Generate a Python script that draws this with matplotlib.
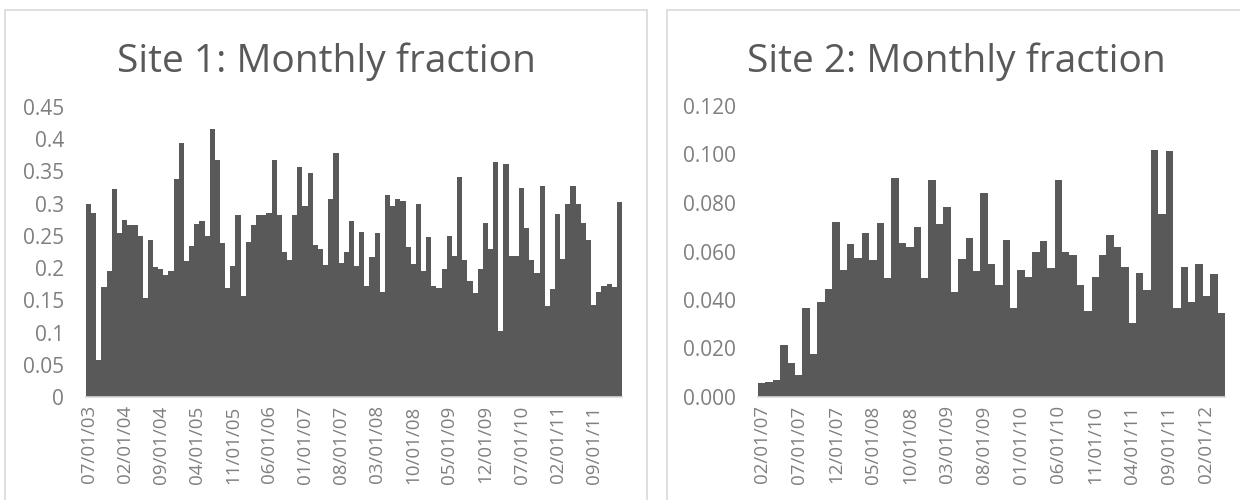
import numpy as np
import pandas as pd
import matplotlib
matplotlib.use("Agg")
import matplotlib.pyplot as plt
from matplotlib.patches import Rectangle

plt.rcParams['font.family'] = ['Open Sans', 'DejaVu Sans']

# Site 1: monthly values starting 07/2003
site1_start = "2003-07-01"
site1_values = [
    0.300, 0.285, 0.058, 0.171, 0.195, 0.323, 0.254, 0.275, 0.267, 0.267,
    0.250, 0.154, 0.244, 0.202, 0.198, 0.190, 0.195, 0.338, 0.394, 0.211,
    0.235, 0.268, 0.273, 0.250, 0.416, 0.367, 0.239, 0.169, 0.204, 0.283,
    0.157, 0.241, 0.267, 0.282, 0.282, 0.285, 0.367, 0.282, 0.225, 0.212,
    0.282, 0.357, 0.297, 0.348, 0.236, 0.229, 0.205, 0.308, 0.379, 0.208,
    0.225, 0.273, 0.204, 0.256, 0.173, 0.217, 0.254, 0.163, 0.314, 0.297,
    0.308, 0.304, 0.233, 0.207, 0.300, 0.195, 0.248, 0.173, 0.169, 0.199,
    0.250, 0.219, 0.341, 0.212, 0.180, 0.162, 0.199, 0.270, 0.229, 0.364,
    0.102, 0.362, 0.219, 0.219, 0.324, 0.262, 0.212, 0.192, 0.328, 0.141,
    0.168, 0.284, 0.214, 0.299, 0.328, 0.299, 0.270, 0.243, 0.142, 0.163,
    0.173, 0.176, 0.171, 0.303,
]
site1_yticks = [0, 0.05, 0.1, 0.15, 0.2, 0.25, 0.3, 0.35, 0.4, 0.45]
site1_ylabels = ["0", "0.05", "0.1", "0.15", "0.2", "0.25", "0.3", "0.35", "0.4", "0.45"]

# Site 2: monthly values starting 02/2007
site2_start = "2007-02-01"
site2_values = [
    0.0056, 0.0062, 0.0070, 0.0214, 0.0141, 0.0089, 0.0367, 0.0178, 0.0392, 0.0444,
    0.0721, 0.0524, 0.0631, 0.0572, 0.0676, 0.0563, 0.0717, 0.0491, 0.0902, 0.0635,
    0.0618, 0.0703, 0.0491, 0.0894, 0.0713, 0.0784, 0.0433, 0.0568, 0.0654, 0.0518,
    0.0843, 0.0550, 0.0463, 0.0648, 0.0367, 0.0522, 0.0495, 0.0599, 0.0643, 0.0531,
    0.0894, 0.0599, 0.0585, 0.0463, 0.0355, 0.0495, 0.0585, 0.0668, 0.0618, 0.0536,
    0.0306, 0.0513, 0.0441, 0.1020, 0.0754, 0.1016, 0.0367, 0.0536, 0.0392, 0.0550,
    0.0415, 0.0509, 0.0347,
]
site2_yticks = [0, 0.02, 0.04, 0.06, 0.08, 0.10, 0.12]
site2_ylabels = ["0.000", "0.020", "0.040", "0.060", "0.080", "0.100", "0.120"]

bar_color = "#595959"
title_color = "#595959"
tick_color = "#7f7f7f"
border_color = "#d9d9d9"

W, H = 1240, 500
fig = plt.figure(figsize=(W / 100, H / 100), dpi=100)

# chart frames
fig.patches.append(Rectangle((5 / W, -0.1), 642 / W, 1.1 - 10 / H, transform=fig.transFigure,
                             fill=False, edgecolor=border_color, linewidth=1.2))
fig.patches.append(Rectangle((667 / W, -0.1), 600 / W, 1.1 - 10 / H, transform=fig.transFigure,
                             fill=False, edgecolor=border_color, linewidth=1.2))


def draw_site(rect, start, values, step, yticks, ylabels, title, title_x):
    values = np.asarray(values)
    dates = pd.date_range(start, periods=len(values), freq="MS")
    x = np.arange(len(values))
    ax = fig.add_axes(rect)
    ax.bar(x, values, width=1.0, color=bar_color, linewidth=0)
    ax.set_xlim(-0.5, len(values) - 0.5)
    ax.set_ylim(yticks[0], yticks[-1])
    ax.set_yticks(yticks)
    ax.set_yticklabels(ylabels)
    ax.set_xticks(x[::step])
    ax.set_xticklabels([d.strftime("%m/%d/%y") for d in dates[::step]], rotation=90)
    ax.tick_params(axis="both", length=0, colors=tick_color)
    ax.tick_params(axis="y", pad=16, labelsize=15)
    ax.tick_params(axis="x", pad=6, labelsize=13.5)
    for side in ["top", "right", "left"]:
        ax.spines[side].set_visible(False)
    ax.spines["bottom"].set_color(border_color)
    ax.spines["bottom"].set_linewidth(1.2)
    fig.text(title_x / W, 1 - 72 / H, title, ha="center", va="baseline",
             fontsize=28, color=title_color)
    return ax


draw_site([86 / W, 103 / H, 536 / W, 290 / H], site1_start, site1_values, 7,
          site1_yticks, site1_ylabels, "Site 1: Monthly fraction", 326)
draw_site([758 / W, 103 / H, 467 / W, 291 / H], site2_start, site2_values, 5,
          site2_yticks, site2_ylabels, "Site 2: Monthly fraction", 956)

fig.savefig("out.png", dpi=100)
